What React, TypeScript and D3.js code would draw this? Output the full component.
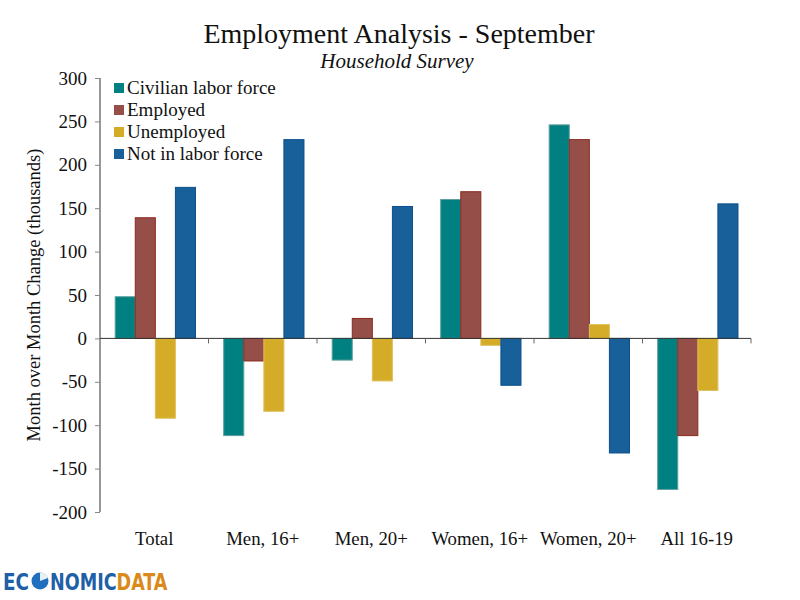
import React, { useEffect, useRef } from "react";
import * as d3 from "d3";

const categories = ["Total", "Men, 16+", "Men, 20+", "Women, 16+", "Women, 20+", "All 16-19"];
const seriesNames = ["Civilian labor force", "Employed", "Unemployed", "Not in labor force"];
const civilianLaborForce = [48, -112, -25, 160, 246, -174];
const employed = [139, -26, 23, 169, 229, -112];
const unemployed = [-92, -84, -49, -8, 16, -60];
const notInLaborForce = [174, 229, 152, -54, -132, 155];
const yTicks = [300, 250, 200, 150, 100, 50, 0, -50, -100, -150, -200];

const colors = ["#008080", "#954f48", "#d4ac28", "#17609a"];
const strokes = ["#5f9f9f", "#8a2a1f", "#e0c060", "#0d4f8c"];

const serif = "'Liberation Serif', 'DejaVu Serif', serif";

const App: React.FC = () => {
  const svgRef = useRef<SVGSVGElement | null>(null);
  const width = 800;
  const height = 600;

  useEffect(() => {
    drawChart();
  }, []);

  const drawChart = () => {
    if (!svgRef.current) return;
    const svg = d3.select(svgRef.current);
    svg.selectAll("*").remove();

    const margin = { top: 78, right: 49, bottom: 88, left: 100 };
    const values = [civilianLaborForce, employed, unemployed, notInLaborForce];

    const x0 = d3.scaleBand<string>().domain(categories).range([margin.left, width - margin.right]);
    const bw = x0.bandwidth();
    const x1 = d3
      .scaleBand<number>()
      .domain(d3.range(seriesNames.length))
      .range([bw * 0.14, bw * 0.88]);
    const y = d3.scaleLinear().domain([-200, 300]).range([height - margin.bottom, margin.top]);

    // bars
    values.forEach((series, s) => {
      svg
        .append("g")
        .selectAll("rect")
        .data(series)
        .join("rect")
        .attr("x", (_, i) => (x0(categories[i]) as number) + (x1(s) as number))
        .attr("y", (d) => y(Math.max(0, d)))
        .attr("width", x1.bandwidth())
        .attr("height", (d) => Math.abs(y(d) - y(0)))
        .attr("fill", colors[s])
        .attr("stroke", strokes[s])
        .attr("stroke-width", 1);
    });

    // y axis
    const yAxis = d3
      .axisLeft(y)
      .tickValues(yTicks)
      .tickSize(5)
      .tickPadding(8)
      .tickFormat((d) => String(d));
    const gy = svg.append("g").attr("transform", `translate(${margin.left},0)`).call(yAxis);
    gy.select(".domain").attr("stroke", "#333").attr("d", `M0,${y(300)}V${y(-200)}`);
    gy.selectAll(".tick line").attr("stroke", "#888");
    gy.selectAll(".tick text")
      .attr("font-family", serif)
      .attr("font-size", 19)
      .attr("fill", "#111");

    // zero line with category ticks
    const bounds = categories.map((c) => (x0(c) as number) + bw);
    svg
      .append("line")
      .attr("x1", margin.left)
      .attr("x2", width - margin.right)
      .attr("y1", y(0))
      .attr("y2", y(0))
      .attr("stroke", "#333");
    svg
      .append("g")
      .selectAll("line")
      .data(bounds)
      .join("line")
      .attr("x1", (d) => d)
      .attr("x2", (d) => d)
      .attr("y1", y(0))
      .attr("y2", y(0) + 5)
      .attr("stroke", "#666");

    // category labels
    svg
      .append("g")
      .selectAll("text")
      .data(categories)
      .join("text")
      .attr("x", (d) => (x0(d) as number) + bw / 2)
      .attr("y", 545)
      .attr("text-anchor", "middle")
      .attr("font-family", serif)
      .attr("font-size", 18.8)
      .attr("fill", "#111")
      .text((d) => d);

    // y axis title
    svg
      .append("text")
      .attr("transform", `translate(40,${(y(300) + y(-200)) / 2}) rotate(-90)`)
      .attr("text-anchor", "middle")
      .attr("font-family", serif)
      .attr("font-size", 18.5)
      .attr("fill", "#111")
      .text("Month over Month Change (thousands)");

    // titles
    svg
      .append("text")
      .attr("x", 399)
      .attr("y", 43)
      .attr("text-anchor", "middle")
      .attr("font-family", serif)
      .attr("font-size", 28)
      .attr("fill", "#111")
      .text("Employment Analysis - September");
    svg
      .append("text")
      .attr("x", 397)
      .attr("y", 68)
      .attr("text-anchor", "middle")
      .attr("font-family", serif)
      .attr("font-style", "italic")
      .attr("font-size", 21)
      .attr("fill", "#111")
      .text("Household Survey");

    // legend
    const legend = svg
      .append("g")
      .selectAll("g")
      .data(seriesNames)
      .join("g")
      .attr("transform", (_, i) => `translate(114,${88 + i * 22})`);
    legend
      .append("rect")
      .attr("x", 0)
      .attr("y", -5)
      .attr("width", 10)
      .attr("height", 10)
      .attr("fill", (_, i) => colors[i]);
    legend
      .append("text")
      .attr("x", 13)
      .attr("y", 6)
      .attr("font-family", serif)
      .attr("font-size", 19)
      .attr("fill", "#111")
      .text((d) => d);

    // logo
    const logo = svg.append("g").attr("transform", "translate(3,590)");
    const logoFont = "'DejaVu Sans Condensed', 'DejaVu Sans', sans-serif";
    logo
      .append("text")
      .attr("x", 0)
      .attr("font-family", logoFont)
      .attr("font-weight", "bold")
      .attr("font-size", 23)
      .attr("textLength", 26)
      .attr("lengthAdjust", "spacingAndGlyphs")
      .attr("fill", "#1f5fa8")
      .text("EC");
    logo.append("circle").attr("cx", 37).attr("cy", -9).attr("r", 8.5).attr("fill", "#1f6fbf");
    logo
      .append("path")
      .attr("d", "M37,-9 L37,-17.5 A8.5,8.5 0 0 1 45,-12 Z")
      .attr("fill", "#e8f0f8");
    const rest = logo
      .append("text")
      .attr("transform", "translate(47,0) scale(0.85,1)")
      .attr("font-family", logoFont)
      .attr("font-weight", "bold")
      .attr("font-size", 23);
    rest.append("tspan").attr("fill", "#1f5fa8").text("NOMIC");
    rest.append("tspan").attr("fill", "#d98a1a").text("DATA");
  };

  return (
    <svg
      ref={svgRef}
      width={width}
      height={height}
      style={{ position: "absolute", left: 0, top: 0, background: "#fff" }}
    />
  );
};

export default App;
